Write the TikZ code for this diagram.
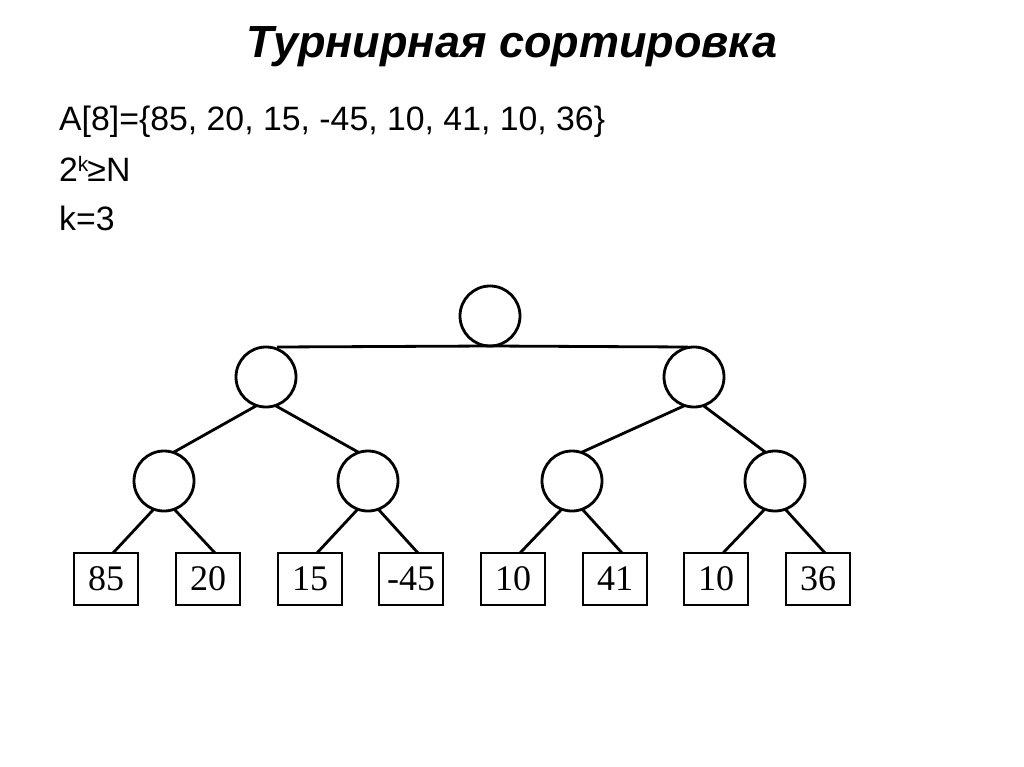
\documentclass[tikz,border=0pt]{standalone}
\usepackage{fontspec}
\setmainfont{Liberation Serif}
\setsansfont{Liberation Sans}
\begin{document}
\begin{tikzpicture}[x=1pt,y=-1pt,
  circ/.style={circle,draw,line width=2.8pt,minimum size=60pt,inner sep=0pt,outer sep=0pt},
  leaf/.style={rectangle,draw,line width=2.6pt,minimum width=64pt,minimum height=52pt,inner sep=0pt,outer sep=0pt,font=\fontsize{36}{36}\selectfont},
  edge/.style={line width=2.8pt},
  txt/.style={anchor=base west,inner sep=0pt,font=\sffamily\fontsize{33.8}{34}\selectfont}]
\useasboundingbox[fill=white] (0,0) rectangle (1024,767);
% title and text
\node[anchor=base,inner sep=0pt,font=\sffamily\bfseries\itshape\fontsize{45}{45}\selectfont] (title) at (512,58) {Турнирная сортировка};
\node[txt] (t1) at (59,131) {A[8]=\{85, 20, 15, -45, 10, 41, 10, 36\}};
\node[txt] (t2) at (59,182) {2\raisebox{10pt}{\fontsize{21}{21}\selectfont k}\kern-1pt≥N};
\node[txt] (t3) at (59,230) {k=3};
% tree
\node[circ] (root) at (490,316) {};
\node[circ] (a) at (266,377) {};
\node[circ] (b) at (694,377) {};
\node[circ] (a1) at (164,481) {};
\node[circ] (a2) at (368,481) {};
\node[circ] (b1) at (572,481) {};
\node[circ] (b2) at (775,481) {};
\node[leaf] (l1) at (106,579) {85};
\node[leaf] (l2) at (208,579) {20};
\node[leaf] (l3) at (310,579) {15};
\node[leaf] (l4) at (411,579) {-45};
\node[leaf] (l5) at (513,579) {10};
\node[leaf] (l6) at (615,579) {41};
\node[leaf] (l7) at (716,579) {10};
\node[leaf] (l8) at (818,579) {36};
\draw[edge] ([xshift=11pt]a.north) -- (root.south);
\draw[edge] (root.south) -- ([xshift=-6pt]b.north);
\foreach \p/\c/\d in {a/a1/a2,b/b1/b2}{
  \draw[edge] (\p.252) -- (\c.72);
  \draw[edge] (\p.288) -- (\d.108);
}
\foreach \p/\c/\d in {a1/l1/l2,a2/l3/l4,b1/l5/l6,b2/l7/l8}{
  \draw[edge] (\p.250) -- ([xshift=7pt]\c.north);
  \draw[edge] (\p.290) -- ([xshift=7pt]\d.north);
}
\end{tikzpicture}
\end{document}
